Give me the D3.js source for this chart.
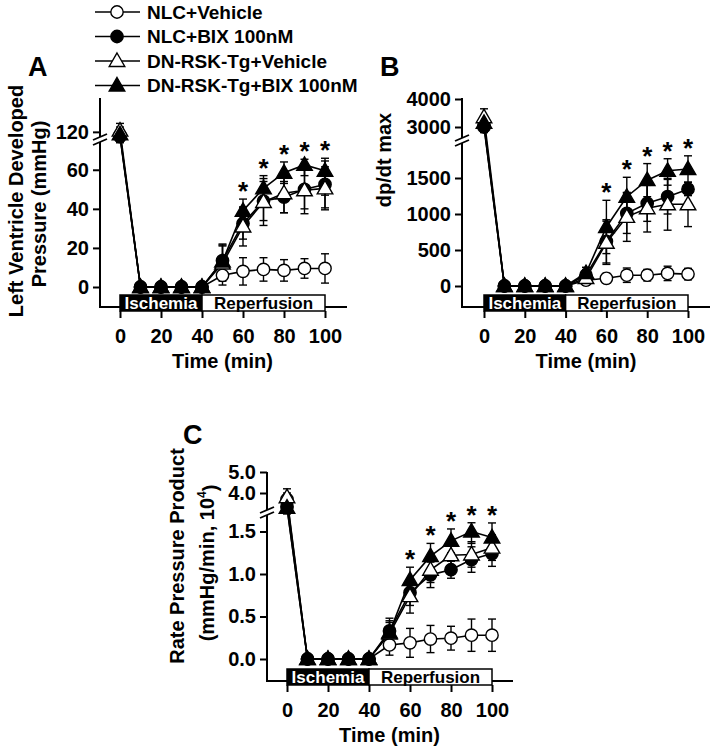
<!DOCTYPE html>
<html><head><meta charset="utf-8">
<script src="https://cdnjs.cloudflare.com/ajax/libs/d3/7.8.5/d3.min.js"></script>
<style>
body{margin:0;background:#fff;}
svg{display:block;font-family:Arial,"Liberation Sans",sans-serif;font-weight:bold;}
</style></head>
<body>
<svg id="chart" width="715" height="750"></svg>
<script>
// ---------- data ----------
const times = [0, 10, 20, 30, 40, 50, 60, 70, 80, 90, 100];
const seriesNames = ["NLC+Vehicle", "NLC+BIX 100nM", "DN-RSK-Tg+Vehicle", "DN-RSK-Tg+BIX 100nM"];
const starTimes = [60, 70, 80, 90, 100];

// Panel A: LVDP (mmHg)
const lvdpNlcVeh = [117, 0, 0, 0, 0, 6, 8, 9, 8.5, 9.5, 9.5];
const lvdpNlcVehErr = [5, 0, 0, 0, 0, 5, 7, 6, 5.5, 5, 7.5];
const lvdpNlcBix = [116, 0, 0, 0, 0, 13.5, 32.5, 44, 46, 50, 52.5];
const lvdpNlcBixErr = [5, 0, 0, 0, 0, 8, 8, 10, 8, 10, 12];
const lvdpDnVeh = [121, 0, 0, 0, 0, 12, 31, 43.5, 48, 49.5, 50.5];
const lvdpDnVehErr = [6, 0, 0, 0, 0, 9, 10, 12, 10, 12, 11];
const lvdpDnBix = [118, 0, 0, 0, 0, 13, 39, 50.5, 58.5, 62.5, 59.5];
const lvdpDnBixErr = [6, 0, 0, 0, 0, 9, 6, 6.5, 5.5, 5.5, 12.5];
const lvdpTicks = [0, 20, 40, 60, 120];

// Panel B: dp/dt max
const dpNlcVeh = [3050, 0, 0, 0, 0, 80, 107, 150, 150, 175, 165];
const dpNlcVehErr = [150, 0, 0, 0, 0, 60, 70, 100, 80, 100, 80];
const dpNlcBix = [3000, 0, 0, 0, 0, 150, 620, 1010, 1148, 1240, 1345];
const dpNlcBixErr = [200, 0, 0, 0, 0, 80, 300, 280, 250, 240, 90];
const dpDnVeh = [3350, 0, 0, 0, 0, 110, 600, 960, 1080, 1135, 1135];
const dpDnVehErr = [300, 0, 0, 0, 0, 100, 300, 340, 330, 360, 310];
const dpDnBix = [3150, 0, 0, 0, 0, 180, 820, 1240, 1470, 1600, 1625];
const dpDnBixErr = [250, 0, 0, 0, 0, 80, 370, 270, 230, 200, 290];
const dpTicks = [0, 500, 1000, 1500, 3000, 4000];

// Panel C: Rate pressure product (10^4 mmHg/min)
const rppNlcVeh = [3.7, 0, 0, 0, 0, 0.165, 0.19, 0.235, 0.245, 0.28, 0.28];
const rppNlcVehErr = [0.3, 0, 0, 0, 0, 0.12, 0.17, 0.16, 0.14, 0.19, 0.19];
const rppNlcBix = [3.35, 0, 0, 0, 0, 0.33, 0.78, 0.99, 1.05, 1.17, 1.24];
const rppNlcBixErr = [0.3, 0, 0, 0, 0, 0.15, 0.15, 0.15, 0.1, 0.15, 0.15];
const rppDnVeh = [3.8, 0, 0, 0, 0, 0.30, 0.74, 1.05, 1.22, 1.23, 1.31];
const rppDnVehErr = [0.4, 0, 0, 0, 0, 0.15, 0.2, 0.15, 0.15, 0.15, 0.15];
const rppDnBix = [3.3, 0, 0, 0, 0, 0.31, 0.93, 1.21, 1.39, 1.50, 1.43];
const rppDnBixErr = [0.3, 0, 0, 0, 0, 0.12, 0.15, 0.15, 0.14, 0.14, 0.18];
const rppTicks = [0.0, 0.5, 1.0, 1.5, 4.0, 5.0];

const xTicks = [0, 20, 40, 60, 80, 100];

// ---------- drawing ----------
const svg = d3.select("#chart");
const FONT = "Arial, 'Liberation Sans', sans-serif";
const markerStyles = [
  {shape: "circle", fill: "#fff"},
  {shape: "circle", fill: "#000"},
  {shape: "triangle", fill: "#fff"},
  {shape: "triangle", fill: "#000"}
];
const circleSym = d3.symbol().type(d3.symbolCircle).size(120);
const triSym = d3.symbol().type(d3.symbolTriangle).size(105);

function drawMarker(g, cx, cy, style) {
  g.append("path")
    .attr("d", style.shape === "circle" ? circleSym() : triSym())
    .attr("transform", `translate(${cx},${cy + (style.shape === "triangle" ? 1 : 0)})`)
    .attr("fill", style.fill).attr("stroke", "#000").attr("stroke-width", 1.4);
}

// Legend
const legend = svg.append("g");
seriesNames.forEach((name, i) => {
  const y = 12 + i * 24.5;
  legend.append("line").attr("x1", 95).attr("x2", 140).attr("y1", y).attr("y2", y)
    .attr("stroke", "#000").attr("stroke-width", 1.5);
  drawMarker(legend, 117, y, markerStyles[i]);
  legend.append("text").attr("x", 147).attr("y", y).attr("dy", "0.36em")
    .attr("font-size", 19).text(name);
});

function panel(cfg) {
  const g = svg.append("g");
  const x = d3.scaleLinear().domain([0, 100]).range(cfg.xr);
  const y = d3.scaleLinear().domain(cfg.yd).range(cfg.yr);
  const bottom = cfg.bottom, ax = cfg.axisX;

  // axis lines
  g.append("path").attr("d", `M${ax},${cfg.top}V${bottom}H${cfg.xEnd}`)
    .attr("fill", "none").attr("stroke", "#000").attr("stroke-width", 2);

  // y axis ticks
  const ya = d3.axisLeft(y).tickValues(cfg.yTicks).tickSize(7).tickSizeOuter(0)
    .tickFormat(cfg.fmt);
  const yg = g.append("g").attr("transform", `translate(${ax},0)`).call(ya);
  yg.select(".domain").remove();
  yg.selectAll(".tick line").attr("stroke-width", 2);
  yg.selectAll(".tick text").attr("font-size", 20).attr("font-weight", "bold")
    .attr("font-family", FONT).attr("x", -11).attr("fill", "#000");

  // break marks
  const by = cfg.breakY;
  g.append("rect").attr("x", ax - 3).attr("y", by - 3).attr("width", 6).attr("height", 5).attr("fill", "#fff");
  [-3, 2].forEach(o => {
    g.append("line").attr("x1", ax - 7).attr("x2", ax + 7)
      .attr("y1", by + o + 3).attr("y2", by + o - 3)
      .attr("stroke", "#000").attr("stroke-width", 1.8);
  });

  // Ischemia / Reperfusion boxes
  const bTop = bottom - 12, bBot = bottom + 4;
  g.append("rect").attr("x", x(0)).attr("y", bTop).attr("width", x(40) - x(0)).attr("height", bBot - bTop)
    .attr("fill", "#000").attr("stroke", "#000").attr("stroke-width", 1.5);
  g.append("rect").attr("x", x(40)).attr("y", bTop).attr("width", x(100) - x(40)).attr("height", bBot - bTop)
    .attr("fill", "#fff").attr("stroke", "#000").attr("stroke-width", 1.5);
  g.append("text").attr("x", (x(0) + x(40)) / 2).attr("y", (bTop + bBot) / 2).attr("dy", "0.37em")
    .attr("text-anchor", "middle").attr("font-size", 17).attr("fill", "#fff").text("Ischemia");
  g.append("text").attr("x", (x(40) + x(100)) / 2).attr("y", (bTop + bBot) / 2).attr("dy", "0.37em")
    .attr("text-anchor", "middle").attr("font-size", 17).attr("fill", "#000").text("Reperfusion");

  // x axis
  const xa = d3.axisBottom(x).tickValues(xTicks).tickSize(7).tickSizeOuter(0).tickPadding(11);
  const xg = g.append("g").attr("transform", `translate(0,${bBot})`).call(xa);
  xg.select(".domain").remove();
  xg.selectAll(".tick line").attr("stroke-width", 2);
  xg.selectAll(".tick text").attr("font-size", 20).attr("font-weight", "bold")
    .attr("font-family", FONT).attr("fill", "#000");
  g.append("text").attr("x", x(50)).attr("y", bottom + 54).attr("dy", "0.36em")
    .attr("text-anchor", "middle").attr("font-size", 20).text("Time (min)");

  // y label
  cfg.yLabel.forEach((l, i) => {
    const t = g.append("text").attr("transform", `translate(${l.x},${l.y}) rotate(-90)`)
      .attr("text-anchor", "middle").attr("dy", "0.36em").attr("font-size", 20);
    if (l.sup) {
      t.append("tspan").text(l.text);
      t.append("tspan").attr("font-size", 12).attr("dy", "-0.7em").text(l.sup);
      t.append("tspan").attr("font-size", 20).attr("dy", "0.55em").text(")");
    } else t.text(l.text);
  });

  // panel letter
  g.append("text").attr("x", cfg.letter.x).attr("y", cfg.letter.y).attr("font-size", 27).text(cfg.letter.t);

  // series
  const line = d3.line().x((d, i) => x(times[i])).y(d => y(d));
  cfg.series.forEach((s, si) => {
    g.append("path").attr("d", line(s.v)).attr("fill", "none").attr("stroke", "#000").attr("stroke-width", 1.6);
  });
  cfg.series.forEach((s, si) => {
    s.v.forEach((v, i) => {
      const e = s.e[i];
      if (e > 0) {
        const cx = x(times[i]);
        g.append("line").attr("x1", cx).attr("x2", cx).attr("y1", y(v - e)).attr("y2", y(v + e))
          .attr("stroke", "#000").attr("stroke-width", 1.4);
        [v - e, v + e].forEach(w => g.append("line").attr("x1", cx - 4).attr("x2", cx + 4)
          .attr("y1", y(w)).attr("y2", y(w)).attr("stroke", "#000").attr("stroke-width", 1.4));
      }
    });
  });
  cfg.series.forEach((s, si) => {
    s.v.forEach((v, i) => drawMarker(g, x(times[i]), y(v), markerStyles[si]));
  });

  // asterisks above the highest series
  const top = cfg.series[3];
  starTimes.forEach(t => {
    const i = times.indexOf(t);
    g.append("text").attr("x", x(t)).attr("y", y(top.v[i] + top.e[i]) + 1)
      .attr("text-anchor", "middle").attr("font-size", 26).text("*");
  });
}

panel({
  xr: [120, 325], xEnd: 347, axisX: 100, top: 98, bottom: 307, breakY: 140,
  yd: [0, 65, 105, 148], yr: [287, 160, 150, 98], yTicks: lvdpTicks, fmt: d3.format("d"),
  yLabel: [{x: 16, y: 201, text: "Left Ventricle Developed"}, {x: 39, y: 204, text: "Pressure (mmHg)"}],
  letter: {x: 28, y: 76, t: "A"},
  series: [
    {v: lvdpNlcVeh, e: lvdpNlcVehErr}, {v: lvdpNlcBix, e: lvdpNlcBixErr},
    {v: lvdpDnVeh, e: lvdpDnVehErr}, {v: lvdpDnBix, e: lvdpDnBixErr}]
});

panel({
  xr: [484, 688], xEnd: 710, axisX: 462, top: 98, bottom: 307, breakY: 141,
  yd: [0, 1750, 2500, 4000], yr: [286, 160, 141, 99], yTicks: dpTicks, fmt: d3.format("d"),
  yLabel: [{x: 384, y: 160, text: "dp/dt max"}],
  letter: {x: 380, y: 76, t: "B"},
  series: [
    {v: dpNlcVeh, e: dpNlcVehErr}, {v: dpNlcBix, e: dpNlcBixErr},
    {v: dpDnVeh, e: dpDnVehErr}, {v: dpDnBix, e: dpDnBixErr}]
});

panel({
  xr: [287, 492], xEnd: 513, axisX: 267, top: 472, bottom: 681, breakY: 513,
  yd: [0, 1.6, 3.0, 5.0], yr: [659, 523, 514, 472], yTicks: rppTicks, fmt: d3.format(".1f"),
  yLabel: [{x: 177, y: 556, text: "Rate Pressure Product"}, {x: 207, y: 563, text: "(mmHg/min, 10", sup: "4"}],
  letter: {x: 183, y: 444, t: "C"},
  series: [
    {v: rppNlcVeh, e: rppNlcVehErr}, {v: rppNlcBix, e: rppNlcBixErr},
    {v: rppDnVeh, e: rppDnVehErr}, {v: rppDnBix, e: rppDnBixErr}]
});
</script>
</body></html>
